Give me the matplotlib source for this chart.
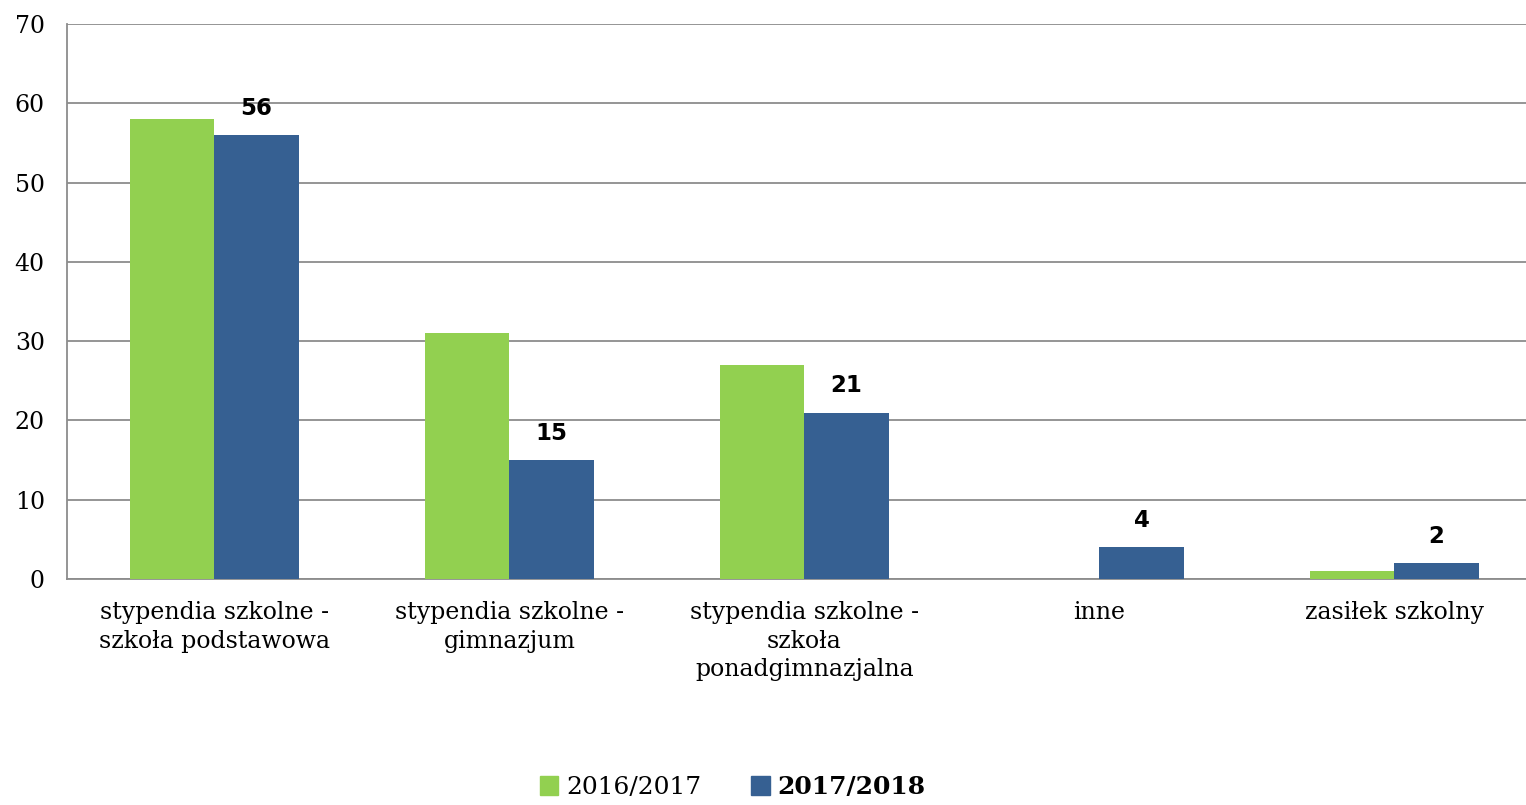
import numpy as np
import matplotlib.pyplot as plt
from matplotlib.patches import Patch

# Dane
kategorie = ['stypendia szkolne -\nszkoła podstawowa',
             'stypendia szkolne -\ngimnazjum',
             'stypendia szkolne -\nszkoła\nponadgimnazjalna',
             'inne',
             'zasiłek szkolny']
rok_2016 = [58, 31, 27, 0, 1]
rok_2017 = [56, 15, 21, 4, 2]
serie = ['2016/2017', '2017/2018']

zielony = '#92D050'
niebieski = '#366092'
szary = '#8C8C8C'

fig = plt.figure(figsize=(15.26, 8.05), dpi=100)
ax = fig.add_axes([0.0439, 0.2807, 0.9561, 0.6895])

x = np.arange(len(kategorie))
w = 0.285
ax.bar(x - w/2, rok_2016, w, color=zielony, zorder=3)
b2 = ax.bar(x + w/2, rok_2017, w, color=niebieski, zorder=3)

# etykiety danych tylko dla 2017/2018
for rect, v in zip(b2, rok_2017):
    ax.text(rect.get_x() + rect.get_width()/2, v + 1.9, str(v),
            ha='center', va='bottom', fontsize=16.5, fontweight='bold',
            family='DejaVu Sans', color='black')

ax.set_xlim(-0.5, -0.5 + 1459 / 295)
ax.set_ylim(0, 70)
ax.set_yticks(range(0, 71, 10))
ax.yaxis.grid(True, color=szary, linewidth=1.3, zorder=0)
ax.set_axisbelow(True)

for s in ['top', 'right']:
    ax.spines[s].set_visible(False)
for s in ['left', 'bottom']:
    ax.spines[s].set_color(szary)
    ax.spines[s].set_linewidth(1.3)

ax.tick_params(axis='both', length=0, labelsize=17)
ax.tick_params(axis='y', pad=16)
ax.tick_params(axis='x', pad=16)
ax.set_xticks(x)
ax.set_xticklabels(kategorie, family='DejaVu Serif', fontsize=17, linespacing=1.3)
for t in ax.get_yticklabels():
    t.set_family('DejaVu Serif')

uchwyty = [Patch(color=zielony), Patch(color=niebieski)]
leg = fig.legend(uchwyty, serie, loc='center', bbox_to_anchor=(0.480, 0.022),
                 ncol=2, frameon=False, handlelength=0.75,
                 handleheight=0.75, handletextpad=0.3, columnspacing=2.0,
                 prop={'family': 'DejaVu Serif', 'size': 18})
leg.get_texts()[1].set_fontweight('bold')

fig.savefig('out.png', dpi=100)
